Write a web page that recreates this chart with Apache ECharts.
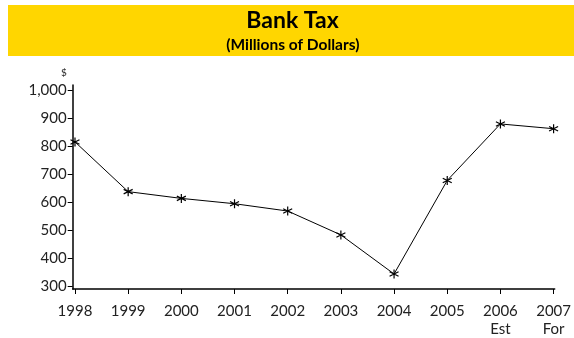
<!DOCTYPE html>
<html>
<head>
<meta charset="utf-8">
<script src="https://cdn.jsdelivr.net/npm/echarts@6/dist/echarts.min.js"></script>
<style>html,body{margin:0;padding:0;background:#fff}#c{width:574px;height:338px}</style>
</head>
<body>
<div id="c"></div>
<script>
var years = [1998, 1999, 2000, 2001, 2002, 2003, 2004, 2005, 2006, 2007];
var xLabels = ['1998', '1999', '2000', '2001', '2002', '2003', '2004', '2005', '2006\nEst', '2007\nFor'];
var bankTax = [815, 638, 614, 595, 569, 484, 345, 678, 879, 862];
var yTicks = [300, 400, 500, 600, 700, 800, 900, 1000];
var titleText = 'Bank Tax';
var subtitleText = '(Millions of Dollars)';
var unitText = '$';

var chart = echarts.init(document.getElementById('c'));
var asterisk = 'path://M0,-5L0,5M-4.33,-2.5L4.33,2.5M-4.33,2.5L4.33,-2.5';
var font = 'Lato';
chart.setOption({
  animation: false,
  graphic: [
    {type: 'rect', z: -1, shape: {x: 8, y: 5, width: 566, height: 51}, style: {fill: '#FFD600'}},
    {type: 'text', x: 292.5, y: 21, style: {text: titleText, font: 'bold 23px Lato', fill: '#000', align: 'center', verticalAlign: 'middle'}},
    {type: 'text', x: 292.8, y: 45, style: {text: subtitleText, font: 'bold 15.5px Lato', fill: '#000', align: 'center', verticalAlign: 'middle'}},
    {type: 'text', x: 64, y: 73, style: {text: unitText, font: '10px Lato', fill: '#222', align: 'center', verticalAlign: 'middle'}}
  ],
  grid: {left: 72.7, right: 18.3, top: 85, bottom: 47.3, containLabel: false},
  xAxis: {
    type: 'value',
    min: 1997.957,
    max: 2007.02,
    splitLine: {show: false},
    axisLine: {lineStyle: {color: '#000', width: 1.5}},
    axisTick: {show: true, length: 5, customValues: years, lineStyle: {color: '#000', width: 1}},
    axisLabel: {
      customValues: years,
      margin: 13,
      fontFamily: font, fontSize: 15, color: '#222', lineHeight: 18,
      formatter: function (v) { return xLabels[years.indexOf(Math.round(v))]; }
    }
  },
  yAxis: {
    type: 'value',
    min: 291.5,
    max: 1017.6,
    splitLine: {show: false},
    axisLine: {show: true, lineStyle: {color: '#000', width: 1.5}},
    axisTick: {show: true, length: 5, customValues: yTicks, lineStyle: {color: '#000', width: 1}},
    axisLabel: {
      customValues: yTicks,
      margin: 6,
      fontFamily: font, fontSize: 15, color: '#222',
      formatter: function (v) { return Math.round(v).toLocaleString('en-US'); }
    }
  },
  series: [{
    type: 'line',
    data: years.map(function (y, i) { return [y, bankTax[i]]; }),
    symbol: asterisk,
    symbolSize: 9,
    lineStyle: {color: '#000', width: 1},
    itemStyle: {color: '#000', borderColor: '#000', borderWidth: 1.2}
  }]
});
</script>
</body>
</html>
